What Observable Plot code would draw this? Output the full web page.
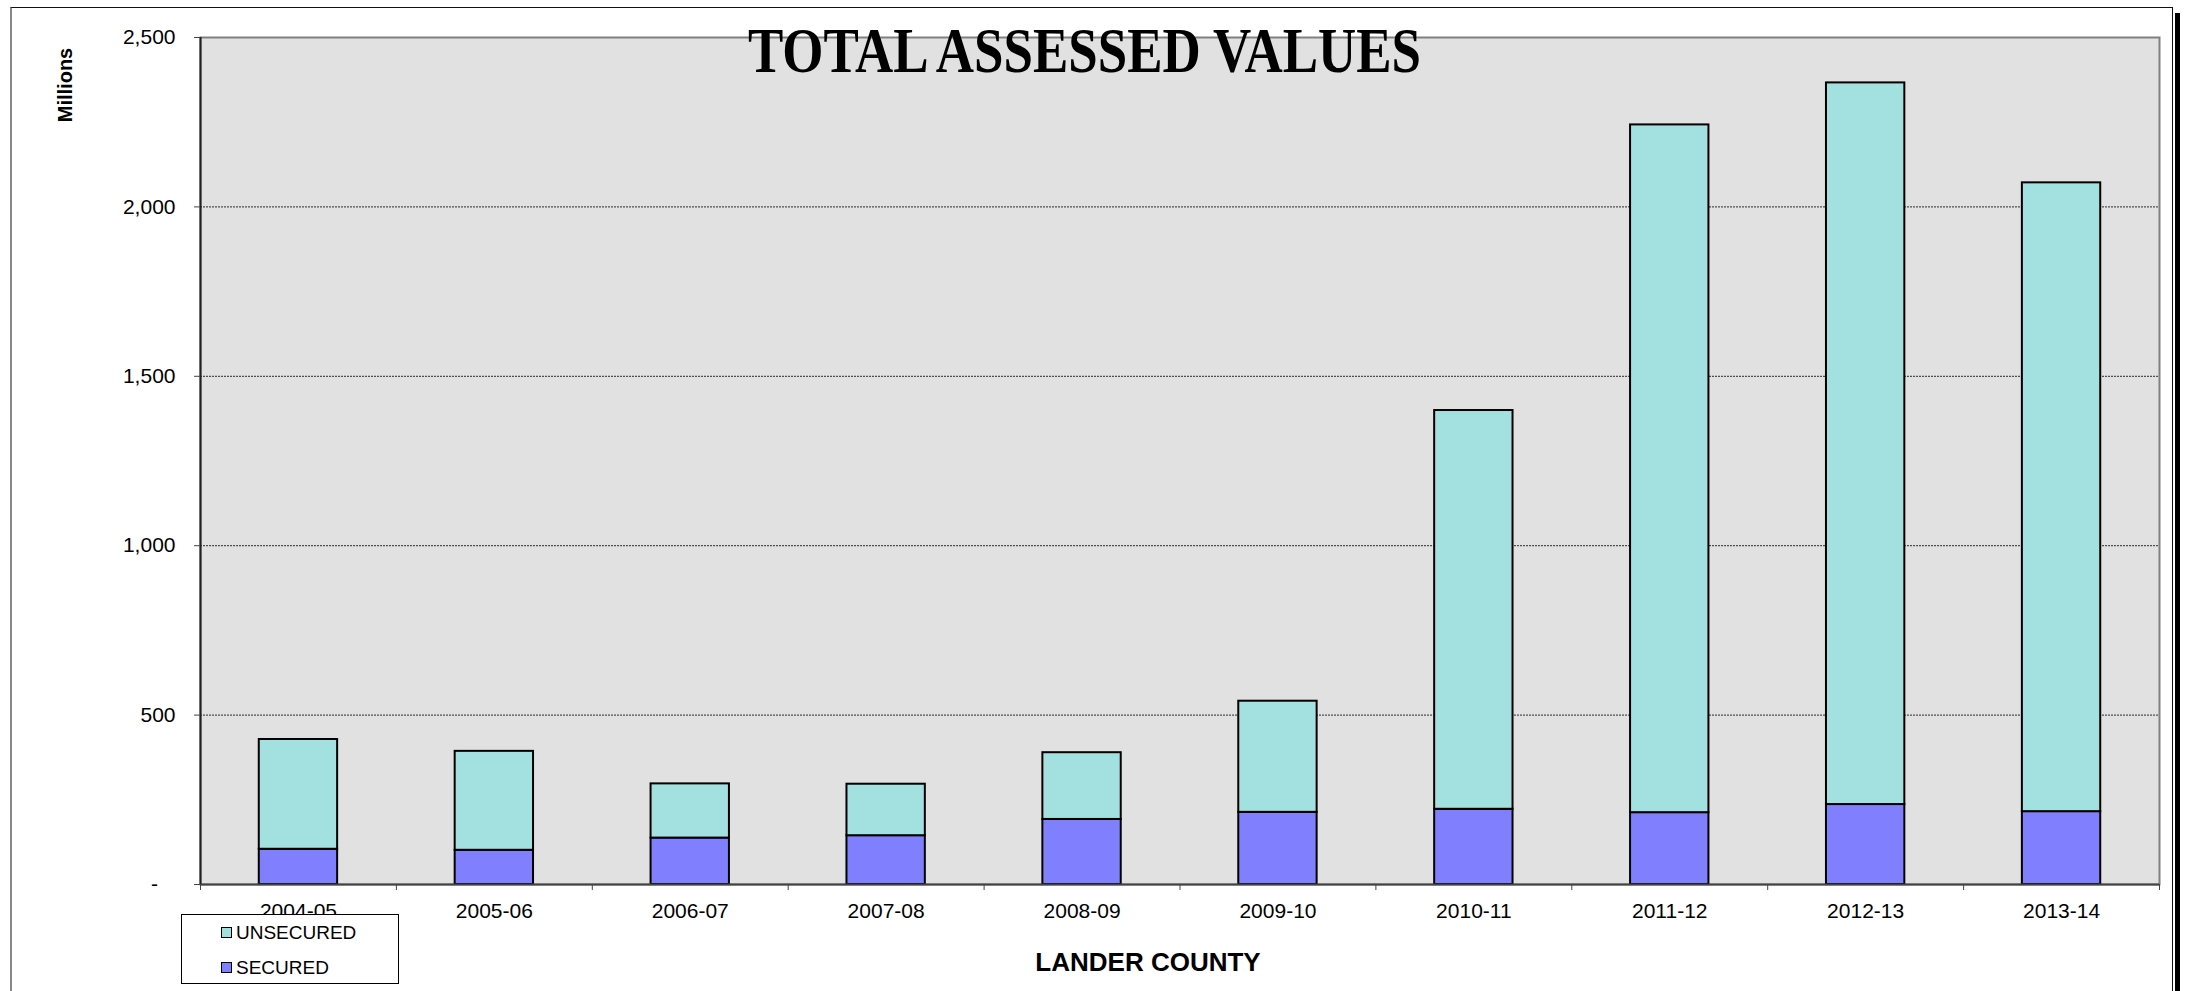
<!DOCTYPE html>
<html>
<head>
<meta charset="utf-8">
<script src="https://cdn.jsdelivr.net/npm/d3@7"></script>
<script src="https://cdn.jsdelivr.net/npm/@observablehq/plot@0.6"></script>
<style>
  body { margin: 0; background: white; font-family: "Liberation Sans", Arial, sans-serif; }
  #wrap { position: relative; width: 2188px; height: 991px; overflow: hidden; background: white; }
  #outer { position: absolute; left: 10px; top: 7px; width: 2163px; height: 1000px;
           border-top: 1.5px solid #111; border-left: 2px solid #888; border-right: 1px solid #111; box-sizing: border-box; }
  #shadow { position: absolute; left: 2175px; top: 13px; width: 5px; height: 1000px; background: #000; }
  #chart { position: absolute; left: 0; top: 0; }
  #ylab { position: absolute; left: 65px; top: 85px; transform: translate(-50%, -50%) rotate(-90deg);
          font-weight: bold; font-size: 20px; line-height: 1; white-space: nowrap; color: #000; }
  #xlab { position: absolute; left: 1148px; top: 962px; transform: translate(-50%, -50%);
          font-weight: bold; font-size: 26px; line-height: 1; white-space: nowrap; color: #000; }
  #legend { position: absolute; left: 181px; top: 914px; width: 218px; height: 70px; box-sizing: border-box;
            border: 1px solid #000; background: #fff; }
  .item { position: absolute; left: 39px; height: 20px; display: flex; align-items: center; transform: translateY(-50%);
          font-size: 19px; line-height: 1; color: #000; white-space: nowrap; }
  .sw { width: 11px; height: 11px; box-sizing: border-box; border: 1.5px solid #000; margin-right: 4px; }
</style>
</head>
<body>
<div id="wrap">
  <div id="outer"></div>
  <div id="shadow"></div>
  <div id="chart"></div>
  <div id="ylab">Millions</div>
  <div id="xlab">LANDER COUNTY</div>
  <div id="legend"></div>
</div>
<script>
// ---- data ----
const years = ["2004-05","2005-06","2006-07","2007-08","2008-09","2009-10","2010-11","2011-12","2012-13","2013-14"];
const secured   = [104, 101, 137, 144, 192, 213, 222, 212, 236, 215];
const unsecured = [324, 292, 160, 152, 197, 328, 1177, 2030, 2130, 1856];
const yTicks = [0, 500, 1000, 1500, 2000, 2500];
const seriesNames  = ["SECURED", "UNSECURED"];
const seriesColors = ["#8080ff", "#a3e0e0"];
const titleText = "TOTAL ASSESSED VALUES";

// ---- layout ----
const W = 2188, H = 991, mL = 200, mR = 29, mT = 37, mB = 107;
const step = (W - mL - mR) / years.length;

const rows = years.flatMap((yr, i) => [
  {year: yr, type: seriesNames[0], value: secured[i]},
  {year: yr, type: seriesNames[1], value: unsecured[i]}
]);

const fmt = d3.format(",");
const chart = Plot.plot({
  width: W, height: H,
  marginLeft: mL, marginRight: mR, marginTop: mT, marginBottom: mB,
  style: {background: "transparent", color: "#000", fontFamily: "Liberation Sans, Arial, sans-serif", fontSize: "21px"},
  x: {domain: years, padding: 0, round: false, axis: null},
  y: {domain: [yTicks[0], yTicks[yTicks.length - 1]], axis: null},
  color: {domain: seriesNames, range: seriesColors},
  marks: [
    Plot.frame({fill: "#e1e1e1", stroke: "#808080", strokeWidth: 2}),
    Plot.ruleY(yTicks.slice(1, -1), {stroke: "#2a2a2a", strokeWidth: 1, strokeDasharray: "2,1"}),
    Plot.barY(rows, {x: "year", y: "value", fill: "type", stroke: "#000", strokeWidth: 2,
                     insetLeft: step * 0.3, insetRight: step * 0.3}),
    Plot.ruleY([0], {stroke: "#444", strokeWidth: 2}),
    Plot.ruleX([years[0]], {dx: -step / 2, stroke: "#222", strokeWidth: 2}),
    Plot.axisY({ticks: yTicks, tickSize: 6, tickPadding: 19, stroke: "#444", fontSize: 21, label: null,
                tickFormat: d => d === 0 ? "-\u00a0\u00a0\u00a0" : fmt(d)}),
    Plot.axisX({ticks: years, tickSize: 6, stroke: "#444", dx: -step / 2, label: null, tickFormat: () => ""}),
    Plot.axisX({ticks: [years[years.length - 1]], tickSize: 6, stroke: "#444", dx: step / 2, label: null, tickFormat: () => ""}),
    Plot.axisX({ticks: years, tickSize: 0, tickPadding: 19, fontSize: 21, label: null})
  ]
});
document.getElementById("chart").appendChild(chart);

// title over the plot area
d3.select(chart).append("text")
  .attr("x", 748).attr("y", 72)
  .attr("text-anchor", "start")
  .attr("textLength", 673).attr("lengthAdjust", "spacingAndGlyphs")
  .attr("font-family", "Liberation Serif, Times New Roman, serif")
  .attr("font-weight", "bold").attr("font-size", 64).attr("fill", "#000")
  .text(titleText);

// legend (UNSECURED on top)
const legend = document.getElementById("legend");
[1, 0].forEach((k, row) => {
  const it = document.createElement("div");
  it.className = "item";
  it.style.top = (17 + row * 35) + "px";
  const sw = document.createElement("div");
  sw.className = "sw";
  sw.style.background = seriesColors[k];
  const tx = document.createElement("span");
  tx.textContent = seriesNames[k];
  it.appendChild(sw); it.appendChild(tx);
  legend.appendChild(it);
});
</script>
</body>
</html>
